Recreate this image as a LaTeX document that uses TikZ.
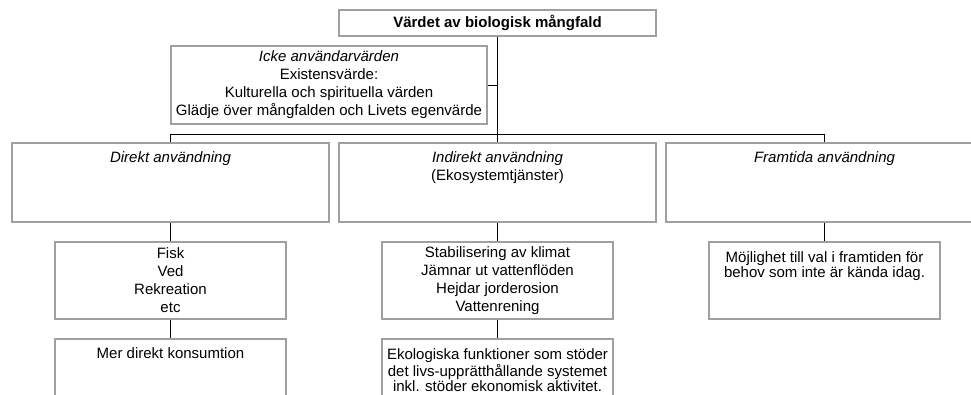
\documentclass[tikz,border=0pt]{standalone}
\usepackage{fontspec}
\setmainfont{Liberation Sans}
\begin{document}
\begin{tikzpicture}[
        x=1pt, y=-1pt,
        font=\fontsize{15}{18}\selectfont
    ]
    \tikzset{
        mybox/.style = {rectangle, draw=gray!75, line width=1.3pt, fill=white, align=center, inner sep=0pt, minimum width=317pt, minimum height=79pt},
        smallbox/.style = {mybox, minimum width=231pt, minimum height=77pt},
        toptext/.style = {anchor=north, align=center, inner sep=9pt},
        tight/.style = {font=\fontsize{15}{15}\selectfont},
        myline/.style = {-, black, line width=1pt},
    }
    \useasboundingbox (0,0) rectangle (971,394);
    \clip (0,0) rectangle (971,394);
    \node[mybox, minimum height=26pt, font=\fontsize{15}{18}\selectfont\bfseries] at (497.5,23) (vardet) {Värdet av biologisk mångfald};
    \node[mybox, minimum width=316pt, minimum height=78pt] at (329,85) (icke) {\textit{Icke användarvärden}\\Existensvärde:\\Kulturella och spirituella värden\\Glädje över mångfalden och Livets egenvärde};
    %
    \node[mybox, label={[toptext]north:\textit{Direkt användning}}] at (170.5,182.5) (direkt) {};
    \node[mybox, label={[toptext]north:{\textit{Indirekt användning}\\(Ekosystemtjänster)}}] at (497.5,182.5) (indirekt) {};
    \node[mybox, label={[toptext]north:\textit{Framtida användning}}] at (824.5,182.5) (framtida) {};
    %
    \node[smallbox] at (170.5,280.5) (fisk) {Fisk\\Ved\\Rekreation\\etc};
    \node[smallbox] at (497.5,280.5) (stab) {Stabilisering av klimat\\Jämnar ut vattenflöden\\Hejdar jorderosion\\Vattenrening};
    \node[smallbox, label={[toptext, tight, inner sep=10pt]north:{Möjlighet till val i framtiden för\\behov som inte är kända idag.}}] at (824.5,280.5) (mojlig) {};
    %
    \node[smallbox, label={[toptext]north:Mer direkt konsumtion}] at (170.5,377.5) (mer) {};
    \node[smallbox, label={[toptext, tight, inner sep=10.5pt]north:{Ekologiska funktioner som stöder\\det livs-upprätthållande systemet\\inkl. stöder ekonomisk aktivitet.}}] at (497.5,377.5) (ekolog) {};
    %
    \coordinate (bar) at (497.5,134.5);
    \draw[myline] (vardet) -- (indirekt);
    \draw[myline] (icke.east) -- (icke.east -| vardet.south);
    \draw[myline] (direkt.north) -- (direkt.north |- bar) -| (framtida.north);
    %
    \draw[myline] (direkt) edge (fisk) (fisk) edge (mer);
    \draw[myline] (indirekt) edge (stab) (stab) edge (ekolog);
    \draw[myline] (framtida) edge (mojlig);
\end{tikzpicture}
\end{document}
